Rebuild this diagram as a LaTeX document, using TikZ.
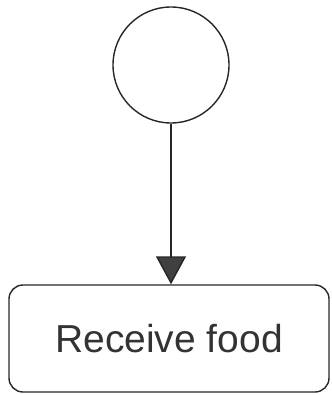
\documentclass[tikz,border=0pt]{standalone}
\usepackage{fontspec}
\setmainfont{Liberation Sans}
\usetikzlibrary{arrows.meta}
\tikzset{
  startnode/.style={draw=black!85, line width=1.4pt, circle, minimum size=116pt, inner sep=0pt},
  taskbox/.style={draw=black!85, line width=1.4pt, rounded corners=14pt, minimum width=320pt, minimum height=107pt, inner sep=0pt, font=\fontsize{39}{42}\selectfont, text=black!80},
  flow/.style={draw=black!85, line width=1.4pt, -{Triangle[length=28pt,width=30pt,fill=black!75]}}
}
\begin{document}
\begin{tikzpicture}[x=1pt,y=-1pt]
\useasboundingbox (0,0) rectangle (331,395);
\node[startnode] (start) at (171,65) {};
\node[taskbox] (task) at (169,338.5) {Receive food};
\draw[flow] (start) -- (task.north -| start);
\end{tikzpicture}
\end{document}
